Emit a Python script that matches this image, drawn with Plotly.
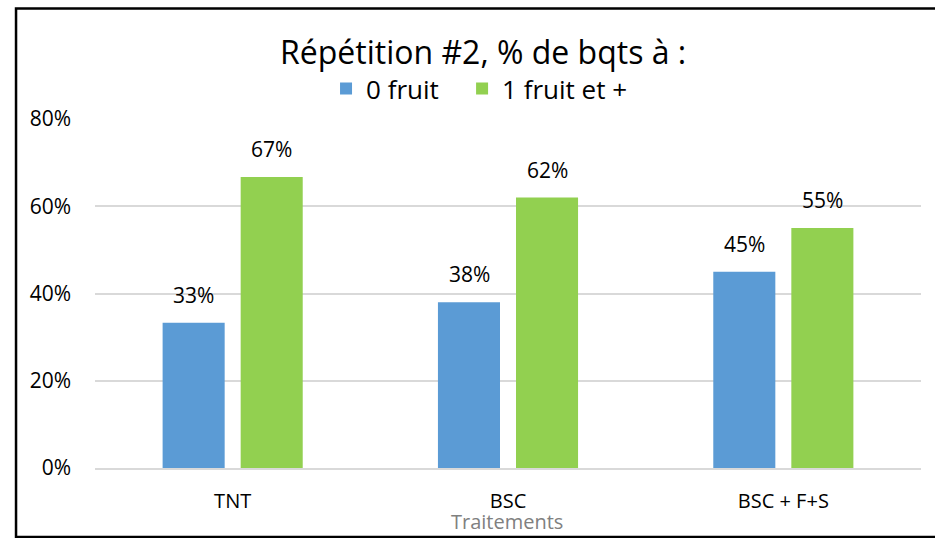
import plotly.graph_objects as go

categories = ["TNT", "BSC", "BSC + F+S"]
zero_fruit = [0.333, 0.38, 0.45]
one_fruit = [0.667, 0.62, 0.55]
zero_labels = ["33%", "38%", "45%"]
one_labels = ["67%", "62%", "55%"]
series_names = ["0 fruit", "1 fruit et +"]
ytick_vals = [0, 0.2, 0.4, 0.6, 0.8]
ytick_text = ["0%", "20%", "40%", "60%", "80%"]

BLUE = "#5B9BD5"
GREEN = "#92D050"
FONT = "'Open Sans', sans-serif"

fig = go.Figure()
fig.add_trace(go.Bar(name=series_names[0], x=categories, y=zero_fruit, marker_color=BLUE,
                     marker_line_width=0, legend="legend"))
fig.add_trace(go.Bar(name=series_names[1], x=categories, y=one_fruit, marker_color=GREEN,
                     marker_line_width=0, legend="legend2"))

annotations = []
for vals, labs, shift in [(zero_fruit, zero_labels, -39), (one_fruit, one_labels, 39)]:
    for c, v, t in zip(categories, vals, labs):
        annotations.append(dict(x=c, y=v, text=t, xref="x", yref="y", showarrow=False,
                                xshift=shift, yshift=12, yanchor="bottom",
                                font=dict(size=21, color="#000000", family=FONT)))

annotations.append(dict(x=0.4697, y=1.193, xref="paper", yref="paper", text="Répétition #2, % de bqts à :",
                        showarrow=False, xanchor="center", yanchor="middle",
                        font=dict(size=32, color="#000000", family=FONT)))
annotations.append(dict(x=0.499, y=-0.154, xref="paper", yref="paper", text="Traitements",
                        showarrow=False, xanchor="center", yanchor="middle",
                        font=dict(size=20, color="#808080", family=FONT)))

legend_common = dict(orientation="h", yanchor="middle", y=1.087, xanchor="left",
                     font=dict(size=26, color="#000000", family=FONT), itemwidth=30,
                     bgcolor="rgba(0,0,0,0)", borderwidth=0)

fig.update_layout(
    template="none",
    width=935, height=538,
    margin=dict(l=95, r=14, t=119, b=70, autoexpand=False),
    paper_bgcolor="white", plot_bgcolor="white",
    barmode="group", bargap=0.433, bargroupgap=0.205,
    font=dict(family=FONT, size=20, color="#000000"),
    showlegend=True,
    legend=dict(legend_common, x=0.2797),
    legend2=dict(legend_common, x=0.4444),
    annotations=annotations,
    shapes=[dict(type="rect", xref="paper", yref="paper", x0=-0.0956, x1=1.2, y0=-0.1977, y1=1.3166,
                 line=dict(color="#000000", width=2.5), fillcolor="rgba(0,0,0,0)")],
)
fig.update_yaxes(range=[0, 0.8], tickvals=ytick_vals, ticktext=ytick_text, showgrid=True,
                 gridcolor="#D9D9D9", gridwidth=1.5, zeroline=False, showline=False, automargin=False,
                 ticks="", ticklabelstandoff=23, tickfont=dict(size=21, color="#000000"))
fig.update_xaxes(showline=True, linecolor="#D9D9D9", linewidth=1.5, ticks="", showgrid=False,
                 zeroline=False, automargin=False,
                 ticklabelstandoff=14, tickfont=dict(size=20, color="#000000"))

fig.write_html("out.html", config={"displayModeBar": False},
               post_script="document.body.style.margin='0px'; document.body.style.overflow='hidden';")
